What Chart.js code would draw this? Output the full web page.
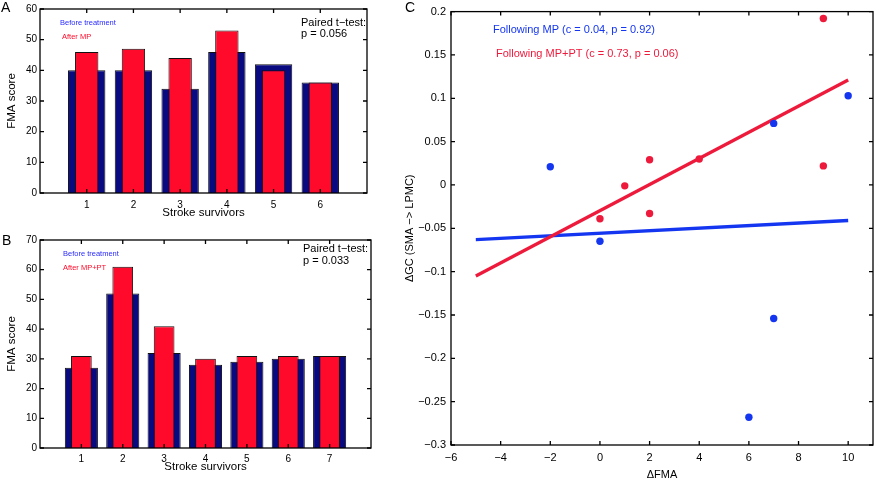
<!DOCTYPE html>
<html>
<head>
<meta charset="utf-8">
<script src="https://cdn.jsdelivr.net/npm/chart.js@4.4.1/dist/chart.umd.min.js"></script>
<style>
  body { margin: 0; background: #fff; }
  #wrap { position: relative; width: 882px; height: 488px; }
  canvas { position: absolute; }
</style>
</head>
<body>
<div id="wrap">
  <canvas id="chartA" width="390" height="225" style="left:0;top:0"></canvas>
  <canvas id="chartB" width="390" height="263" style="left:0;top:225px"></canvas>
  <canvas id="chartC" width="487" height="488" style="left:395px;top:0"></canvas>
</div>
<script>
// panel A: FMA before / after MP
const subjectsA = ['1', '2', '3', '4', '5', '6'];
const beforeA = [40, 40, 34, 46, 42, 36];
const afterMP = [46, 47, 44, 53, 40, 36];

// panel B: FMA before / after MP+PT
const subjectsB = ['1', '2', '3', '4', '5', '6', '7'];
const beforeB = [27, 52, 32, 28, 29, 30, 31];
const afterMPPT = [31, 61, 41, 30, 31, 31, 31];

// panel C: change in GC vs change in FMA
const dFmaMP = [-2, 0, 6, 7, 7, 10];
const dGcMP = [0.021, -0.065, -0.268, 0.071, -0.154, 0.103];
const dFmaMPPT = [0, 1, 2, 2, 4, 9, 9];
const dGcMPPT = [-0.039, -0.001, 0.029, -0.033, 0.030, 0.192, 0.022];
const fitX = [-5, 10];
const fitMP = [-0.063, -0.041];
const fitMPPT = [-0.105, 0.121];

const NAVY = '#0a0a80';
const RED = '#ff0a2a';
const BLUE_TXT = '#2a2aff';
const C_BLUE = '#1436f0';
const C_RED = '#ee1a3c';
const FONT = '"Liberation Sans", Arial, sans-serif';

Chart.defaults.font.family = FONT;
Chart.defaults.color = '#000';
Chart.defaults.animation = false;

// box round the plot area, with matlab-like inward ticks
const frame = {
    id: 'frame',
    afterDatasetsDraw(chart) {
        const {ctx, chartArea: a} = chart;
        const xs = chart.scales.x, ys = chart.scales.y;
        const len = 4;
        ctx.save();
        ctx.strokeStyle = '#000';
        ctx.lineWidth = 1.3;
        ctx.beginPath();
        ys.ticks.forEach(t => {
            const p = ys.getPixelForValue(t.value);
            ctx.moveTo(a.left, p); ctx.lineTo(a.left + len, p);
            ctx.moveTo(a.right, p); ctx.lineTo(a.right - len, p);
        });
        const isCat = xs.type === 'category';
        xs.ticks.forEach((t, i) => {
            if (isCat && (i === 0 || i === xs.ticks.length - 1)) return;
            const p = xs.getPixelForTick(i);
            ctx.moveTo(p, a.top); ctx.lineTo(p, a.top + len);
            ctx.moveTo(p, a.bottom); ctx.lineTo(p, a.bottom - len);
        });
        ctx.stroke();
        ctx.strokeRect(a.left, a.top, a.right - a.left, a.bottom - a.top);
        ctx.restore();
    }
};

function makeNotes(items) {
    return {
        id: 'notes',
        afterDraw(chart) {
            const ctx = chart.ctx;
            ctx.save();
            ctx.textBaseline = 'middle';
            items.forEach(n => {
                ctx.font = n.font;
                ctx.fillStyle = n.color || '#000';
                ctx.textAlign = 'left';
                ctx.fillText(n.text, n.x, n.y);
            });
            ctx.restore();
        }
    };
}

function barPanel(id, subjects, before, after, yMax, box, notes) {
    const labels = ['0'].concat(subjects, [String(subjects.length + 1)]);
    const pad = v => [null].concat(v, [null]);
    return new Chart(document.getElementById(id), {
        type: 'bar',
        data: {
            labels: labels,
            datasets: [
                {data: pad(after), backgroundColor: RED, borderColor: '#111', borderWidth: 1,
                    barPercentage: 0.5, categoryPercentage: 1, order: 1},
                {data: pad(before), backgroundColor: NAVY, borderColor: '#111', borderWidth: 1,
                    barPercentage: 0.8, categoryPercentage: 1, order: 2}
            ]
        },
        options: {
            responsive: false,
            layout: {padding: {left: 0, top: box.top, right: box.right, bottom: 0}},
            datasets: {bar: {grouped: false}},
            plugins: {legend: {display: false}, tooltip: {enabled: false}},
            scales: {
                x: {
                    offset: false,
                    grid: {display: false, drawTicks: false},
                    border: {display: false},
                    ticks: {
                        autoSkip: false, maxRotation: 0, padding: box.xPad, font: {size: 10},
                        callback(v, i) {
                            return (i === 0 || i === labels.length - 1) ? '' : this.getLabelForValue(v);
                        }
                    },
                    title: {display: true, text: 'Stroke survivors', font: {size: 11.5},
                        padding: {top: 0, bottom: box.titlePad}},
                    afterFit(s) { s.height = box.xHeight; }
                },
                y: {
                    min: 0, max: yMax,
                    grid: {display: false, drawTicks: false},
                    border: {display: false},
                    ticks: {stepSize: 10, padding: 3, font: {size: 10}},
                    title: {display: true, text: 'FMA score', font: {size: 11.5}, padding: {top: 5, bottom: 0}},
                    afterFit(s) { s.width = 40; }
                }
            }
        },
        plugins: [frame, makeNotes(notes)]
    });
}

barPanel('chartA', subjectsA, beforeA, afterMP, 60,
    {top: 8, right: 23, xHeight: 32, xPad: 6, titlePad: 5},
    [
        {text: 'A', x: 1, y: 8, font: '14px ' + FONT},
        {text: 'Before treatment', x: 60, y: 23, font: '7.5px ' + FONT, color: BLUE_TXT},
        {text: 'After MP', x: 62, y: 37, font: '7.5px ' + FONT, color: RED},
        {text: 'Paired t\u2212test:', x: 301, y: 23, font: '11px ' + FONT},
        {text: 'p = 0.056', x: 301, y: 34, font: '11px ' + FONT}
    ]);

barPanel('chartB', subjectsB, beforeB, afterMPPT, 70,
    {top: 15, right: 19, xHeight: 40, xPad: 5, titlePad: 14},
    [
        {text: 'B', x: 2, y: 16, font: '14px ' + FONT},
        {text: 'Before treatment', x: 63, y: 29, font: '7.5px ' + FONT, color: BLUE_TXT},
        {text: 'After MP+PT', x: 63, y: 43, font: '7.5px ' + FONT, color: RED},
        {text: 'Paired t\u2212test:', x: 303, y: 24, font: '11px ' + FONT},
        {text: 'p = 0.033', x: 303, y: 36, font: '11px ' + FONT}
    ]);

const pts = (xs, ys) => xs.map((x, i) => ({x: x, y: ys[i]}));
const fmt = v => String(+v.toFixed(2)).replace('-', '\u2212');

new Chart(document.getElementById('chartC'), {
    type: 'scatter',
    data: {
        datasets: [
            {data: pts(dFmaMPPT, dGcMPPT), backgroundColor: C_RED, borderWidth: 0, pointRadius: 3.7, order: 1},
            {data: pts(dFmaMP, dGcMP), backgroundColor: C_BLUE, borderWidth: 0, pointRadius: 3.7, order: 1},
            {data: pts(fitX, fitMPPT), showLine: true, borderColor: C_RED, borderWidth: 3.3, pointRadius: 0, order: 2},
            {data: pts(fitX, fitMP), showLine: true, borderColor: C_BLUE, borderWidth: 3.3, pointRadius: 0, order: 3}
        ]
    },
    options: {
        responsive: false,
        layout: {padding: {left: 0, top: 6, right: 9, bottom: 0}},
        plugins: {legend: {display: false}, tooltip: {enabled: false}},
        scales: {
            x: {
                type: 'linear', min: -6, max: 11,
                grid: {display: false, drawTicks: false},
                border: {display: false},
                ticks: {stepSize: 2, includeBounds: false, padding: 6, font: {size: 11}, callback: v => fmt(v)},
                title: {display: true, text: '\u0394FMA', font: {size: 11}, padding: {top: 0, bottom: 6}},
                afterFit(s) { s.height = 43; }
            },
            y: {
                min: -0.3, max: 0.2,
                grid: {display: false, drawTicks: false},
                border: {display: false},
                ticks: {stepSize: 0.05, padding: 5, font: {size: 11}, callback: v => fmt(v)},
                title: {display: true, text: '\u0394GC (SMA \u2212> LPMC)', font: {size: 11}, padding: {top: 8, bottom: 0}},
                afterFit(s) { s.width = 56; }
            }
        }
    },
    plugins: [frame, makeNotes([
        {text: 'C', x: 10, y: 8, font: '14px ' + FONT},
        {text: 'Following MP (c = 0.04, p = 0.92)', x: 98, y: 30, font: '11px ' + FONT, color: C_BLUE},
        {text: 'Following MP+PT (c = 0.73, p = 0.06)', x: 101, y: 54, font: '11px ' + FONT, color: C_RED}
    ])]
});
</script>
</body>
</html>
